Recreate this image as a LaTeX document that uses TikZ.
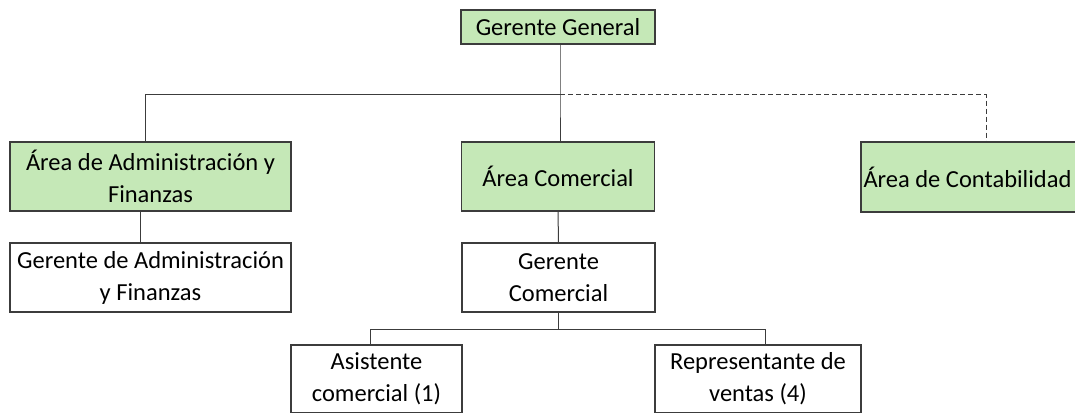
\documentclass[tikz,border=0pt]{standalone}
\usepackage{fontspec}
\setmainfont{Carlito}
\usetikzlibrary{positioning,calc}
\definecolor{areagreen}{RGB}{197,232,183}
\definecolor{boxline}{RGB}{60,60,60}
\tikzstyle{orgbox}=[draw=boxline,line width=1.1pt,align=center,inner sep=2pt,font=\fontsize{24.5}{32}\selectfont]
\tikzstyle{areabox}=[orgbox,fill=areagreen]
\tikzstyle{link}=[draw=boxline,line width=1pt]

\begin{document}
\begin{tikzpicture}[x=1pt,y=-1pt]
\useasboundingbox (0,0) rectangle (1075,412);
\clip (0,0) rectangle (1075,412);
% top
\node[areabox,minimum width=194pt,minimum height=34pt] (gg) at (558,27) {Gerente General};
% areas
\node[areabox,minimum width=281pt,minimum height=69pt] (adm) at (150.5,176.5) {Área de Administración y\\Finanzas};
\node[areabox,minimum width=193pt,minimum height=69pt] (com) at (558,176.5) {Área Comercial};
\node[areabox,minimum width=250pt,minimum height=70pt,text width=245pt,align=flush left] (cont) at (986,177) {Área de Contabilidad};
% managers
\node[orgbox,minimum width=281pt,minimum height=69pt] (gadm) at (150.5,277.5) {Gerente de Administración\\y Finanzas};
\node[orgbox,minimum width=193pt,minimum height=69pt] (gcom) at (558.5,277.5) {Gerente\\Comercial};
% staff
\node[orgbox,minimum width=171pt,minimum height=68pt] (asis) at (376.5,379) {Asistente\\comercial (1)};
\node[orgbox,minimum width=206pt,minimum height=68pt] (rep) at (758,379) {Representante de\\ventas (4)};
% connectors
\coordinate (jt) at ($(gg.south)+(2,50)$);
\coordinate (split) at (558,329);
\draw[link] (gg.south -| jt) -- (jt) -- (com.north -| jt);
\draw[link] (jt) -| ([xshift=-5.5pt]adm.north);
\draw[link,dashed,dash pattern=on 5pt off 3pt] (jt) -| (cont.north);
\draw[link] ([xshift=-10.5pt]adm.south) -- ([xshift=-10.5pt]gadm.north);
\draw[link] (com.south) -- (gcom.north);
\draw[link] (split |- gcom.south) -- (split);
\draw[link] (split) -| ([xshift=-6.5pt]asis.north);
\draw[link] (split) -| ([xshift=7pt]rep.north);
\end{tikzpicture}
\end{document}
